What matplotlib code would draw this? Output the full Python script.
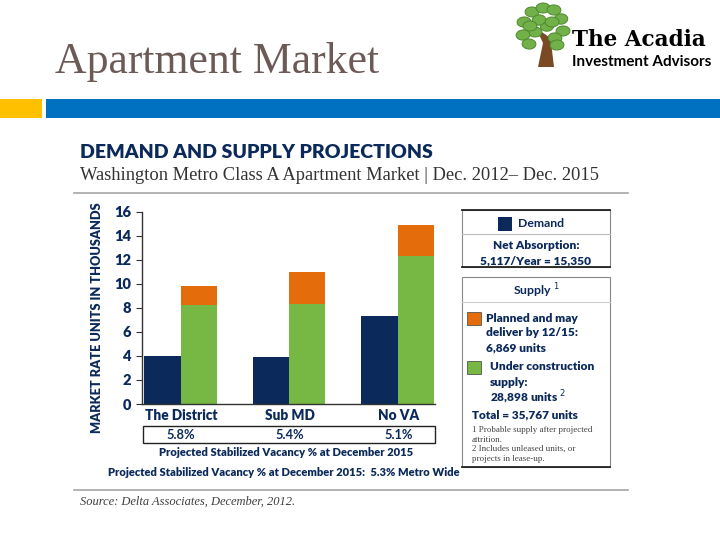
import matplotlib.pyplot as plt
from matplotlib.patches import Rectangle, Ellipse, Polygon
import numpy as np

# data (thousands of units)
regions = ["The District", "Sub MD", "No VA"]
demand = [4.0, 3.9, 7.3]
under_construction = [8.25, 8.3, 12.3]
planned = [1.6, 2.65, 2.6]
vacancy = ["5.8%", "5.4%", "5.1%"]
yticks = [0, 2, 4, 6, 8, 10, 12, 14, 16]

NAVY = "#0b2a5b"
GREEN = "#76b843"
ORANGE = "#e46c0a"
SANS = "Lato"
BOLD = "heavy"

W, H = 720, 540
fig = plt.figure(figsize=(7.2, 5.4), dpi=100)


def fx(x):
    return x / W


def fy(y):
    return 1 - y / H


def ftext(x, y, s, **kw):
    fig.text(fx(x), fy(y), s, va="center", **kw)


def frect(x0, y0, x1, y1, **kw):
    fig.patches.append(Rectangle((fx(x0), fy(y1)), fx(x1) - fx(x0), fy(y0) - fy(y1),
                                 transform=fig.transFigure, figure=fig, **kw))


def fline(x0, y0, x1, y1, **kw):
    fig.add_artist(plt.Line2D([fx(x0), fx(x1)], [fy(y0), fy(y1)],
                              transform=fig.transFigure, **kw))


# slide header
ftext(55, 62, "Apartment Market", family="Liberation Serif", fontsize=31.5, color="#6b5a55")
frect(0, 99, 42, 118, color="#ffc000", lw=0)
frect(46, 99, 720, 118, color="#0070c0", lw=0)

# logo: simple tree + name
trunk = Polygon([(fx(538), fy(67)), (fx(554), fy(67)), (fx(551), fy(42)), (fx(562), fy(30)),
                 (fx(549), fy(37)), (fx(536), fy(28)), (fx(543), fy(43))],
                closed=True, transform=fig.transFigure, color="#7a4a24", lw=0)
fig.add_artist(trunk)
leaves = [(524, 22, 30), (532, 12, -20), (543, 8, 10), (554, 10, -30), (561, 19, 60),
          (563, 31, 20), (555, 38, -40), (547, 26, 70), (535, 32, -10), (523, 35, 40),
          (529, 44, -30), (552, 22, 10), (539, 20, 50), (530, 26, 0), (557, 45, 20)]
for lx, ly, ang in leaves:
    fig.add_artist(Ellipse((fx(lx), fy(ly)), fx(14), 10 / H, angle=ang,
                           transform=fig.transFigure, color="#72b04a", ec="#4d8a2c", lw=0.7))
ftext(572, 40, "The Acadia", family="DejaVu Serif", fontsize=15.5, weight="bold", color="black")
ftext(572, 62, "Investment Advisors", family=SANS, fontsize=11, weight="bold", color="black")

# chart header
ftext(80, 152, "DEMAND AND SUPPLY PROJECTIONS", family=SANS, fontsize=14, weight=BOLD,
      color=NAVY)
ftext(80, 175, "Washington Metro Class A Apartment Market | Dec. 2012\u2013 Dec. 2015",
      family="Liberation Serif", fontsize=13.3, color="#333333")
fline(74, 193, 628, 193, color="#a6a6a6", lw=1.2)
fline(74, 490, 628, 490, color="#a6a6a6", lw=1.2)
ftext(80, 502, "Source: Delta Associates, December, 2012.", family="Liberation Serif",
      fontsize=9, style="italic", color="#404040")

# bar chart
ax = fig.add_axes([fx(142), fy(404), fx(435) - fx(142), fy(211.7) - fy(404)])
x = np.arange(len(regions))
w = 0.335
ax.bar(x - w / 2, demand, w, color=NAVY)
ax.bar(x + w / 2, under_construction, w, color=GREEN)
ax.bar(x + w / 2, planned, w, bottom=under_construction, color=ORANGE)
ax.set_xlim(-w - 0.02, 2 + w + 0.01)
ax.set_ylim(0, 16)
ax.set_yticks(yticks)
ax.set_xticks([])
for s in ["top", "right"]:
    ax.spines[s].set_visible(False)
for s in ["left", "bottom"]:
    ax.spines[s].set_color("#333333")
    ax.spines[s].set_linewidth(1.0)
ax.tick_params(axis="y", length=4, color="#333333", labelsize=10.5, labelcolor=NAVY, pad=4)
for t in ax.get_yticklabels():
    t.set_fontfamily(SANS)
    t.set_fontweight(BOLD)
fig.text(fx(97), fy(318), "MARKET RATE UNITS IN THOUSANDS", rotation=90, ha="center",
         va="center", family=SANS, fontsize=9.2, weight=BOLD, color=NAVY)

# category labels and vacancy table
for i, (name, vac) in enumerate(zip(regions, vacancy)):
    px = 181 + i * 109
    ftext(px, 416, name, ha="center", family=SANS, fontsize=9.8, weight=BOLD, color=NAVY)
    ftext(px, 435, vac, ha="center", family=SANS, fontsize=9.3, weight="bold", color=NAVY)
frect(143, 426, 435, 443, fill=False, ec="#222222", lw=1.0)
ftext(286, 452, "Projected Stabilized Vacancy % at December 2015", ha="center", family=SANS,
      fontsize=8, weight=BOLD, color=NAVY)
ftext(284, 473, "Projected Stabilized Vacancy % at December 2015:  5.3% Metro Wide",
      ha="center", family=SANS, fontsize=8, weight=BOLD, color=NAVY)

# legend box 1: demand
frect(462, 210, 610, 267, fill=False, ec="#888888", lw=0.8)
fline(462, 210, 610, 210, color="#222222", lw=1.3)
fline(462, 267, 610, 267, color="#222222", lw=1.3)
fline(462, 234, 610, 234, color="#bbbbbb", lw=0.8)
frect(498, 217, 512, 231, color=NAVY, lw=0)
ftext(518, 224, "Demand", family=SANS, fontsize=8.8, weight="bold", color=NAVY)
ftext(536, 246, "Net Absorption:", ha="center", family=SANS, fontsize=8.6, weight=BOLD,
      color=NAVY)
ftext(536, 261, "5,117/Year = 15,350", ha="center", family=SANS, fontsize=8.6, weight=BOLD,
      color=NAVY)

# legend box 2: supply
frect(462, 277, 610, 467, fill=False, ec="#888888", lw=0.8)
fline(462, 467, 610, 467, color="#222222", lw=1.3)
fline(462, 302, 610, 302, color="#cccccc", lw=0.8)
ftext(536, 291, "Supply $^{1}$", ha="center", family=SANS, fontsize=8.8, weight="bold",
      color=NAVY)
frect(467, 312, 481, 325, color=ORANGE, ec="#555555", lw=0.6)
for yy, s in zip([318, 333, 348], ["Planned and may", "deliver by 12/15:", "6,869 units"]):
    ftext(486, yy, s, family=SANS, fontsize=8.6, weight=BOLD, color=NAVY)
frect(467, 361, 481, 374, color=GREEN, ec="#555555", lw=0.6)
for yy, s in zip([367, 382, 397], ["Under construction", "supply:", "28,898 units $^{2}$"]):
    ftext(490, yy, s, family=SANS, fontsize=8.6, weight=BOLD, color=NAVY)
ftext(472, 415, "Total = 35,767 units", family=SANS, fontsize=8.5, weight=BOLD, color=NAVY)
notes = ["1 Probable supply after projected", "attrition.", "2 Includes unleased units, or",
         "projects in lease-up."]
for yy, s in zip([430, 440, 449, 459], notes):
    ftext(472, yy, s, family="Liberation Serif", fontsize=6.5, color="#444444")

fig.savefig("out.png", dpi=100)
